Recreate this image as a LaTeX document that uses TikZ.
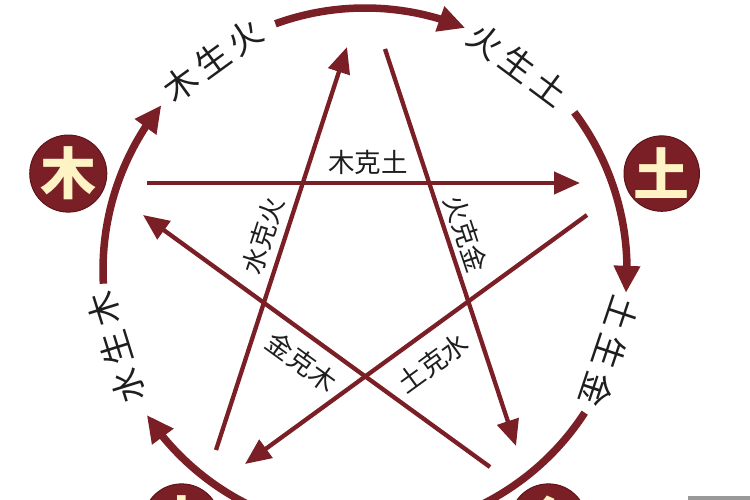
\documentclass[tikz,border=0pt]{standalone}
\usepackage{fontspec}
\newfontfamily\cjk{Noto Sans CJK SC}
\usetikzlibrary{arrows.meta,bending,calc}
\definecolor{wxred}{HTML}{7A1F26}
\definecolor{wxdark}{HTML}{5E1419}
\definecolor{wxpale}{HTML}{FDF3C4}
\definecolor{wxtext}{HTML}{1E1E1E}
\tikzset{
  ring/.style={draw=wxred, line width=7.5pt},
  ringarrow/.style={ring, -{Triangle[length=27pt,width=25pt]}},
  starline/.style={draw=wxred, line width=4.3pt, -{Triangle[length=26pt,width=22pt]}},
  elem/.style={circle, fill=wxred, draw=wxdark, line width=1pt, minimum size=74pt, inner sep=0pt,
    text=wxpale, font=\cjk\fontsize{56}{56}\selectfont\bfseries},
  innerlabel/.style={text=wxtext, inner sep=0pt, font=\cjk\fontsize{26.5}{26.5}\selectfont},
  outerlabel/.style={text=wxtext, inner sep=0pt, font=\cjk\fontsize{34}{34}\selectfont}
}
\newcommand{\gp}{\hspace{6pt}}
\begin{document}
\begin{tikzpicture}[x=1pt,y=1pt]
\useasboundingbox (0,0) rectangle (750,500);
\clip (0,0) rectangle (750,500);
\coordinate (O) at (365,230);

% outer ring arcs
\draw[ringarrow] ($(O)+(183:262)$) arc[start angle=183, end angle=141, radius=262];
\draw[ringarrow] ($(O)+(110:262)$) arc[start angle=110, end angle=67.5, radius=262];
\draw[ringarrow] ($(O)+(37:262)$) arc[start angle=37, end angle=-5, radius=262];
\draw[ring] ($(O)+(-33:262)$) arc[start angle=-33, end angle=-72, radius=262];
\draw[ringarrow] ($(O)+(-108:262)$) arc[start angle=-108, end angle=-146.4, radius=262];

% outer labels
\node[outerlabel, rotate=36] (l1) at ($(O)+(126:259)$) {木\gp 生\gp 火};
\node[outerlabel, rotate=-36.7] (l2) at ($(O)+(53.3:256)$) {火\gp 生\gp 土};
\node[outerlabel, rotate=-108.5] (l3) at ($(O)+(-18.5:258)$) {土\gp 生\gp 金};
\node[outerlabel, rotate=107.3] (l4) at ($(O)+(197.3:261)$) {水\gp 生\gp 木};

% element circles
\node[elem] (mu) at ($(O)+(162:312)$) {木};
\node[elem] (tu) at ($(O)+(18:312)$) {土};
\node[elem] (shui) at ($(O)+(234:312)$) {水};
\node[elem] (jin) at ($(O)+(306:312)$) {金};

% star end points
\coordinate (a1) at (490,33);  \coordinate (a2) at (143,285);
\coordinate (b1) at (587,285); \coordinate (b2) at (245,36);
\coordinate (c1) at (147,317); \coordinate (c2) at (580,317);
\coordinate (d1) at (216,50);  \coordinate (d2) at (347,453);
\coordinate (e1) at (385,451); \coordinate (e2) at (516,54);

\draw[starline] (a1) -- (a2);
\draw[starline] (b1) -- (b2);
\draw[starline] (c1) -- (c2);
\draw[starline] (d1) -- (d2);
\draw[starline] (e1) -- (e2);

% inner labels
\node[innerlabel] (k1) at (368,338) {木克土};
\node[innerlabel, rotate=72] (k2) at (263,264) {水克火};
\node[innerlabel, rotate=-71.5] (k3) at (466,266) {火克金};
\node[innerlabel, rotate=-36] (k4) at (302,138) {金克木};
\node[innerlabel, rotate=36] (k5) at (433,137) {土克水};

% watermark strip
\fill[gray!80] (688,0) rectangle (750,4);
\end{tikzpicture}
\end{document}
